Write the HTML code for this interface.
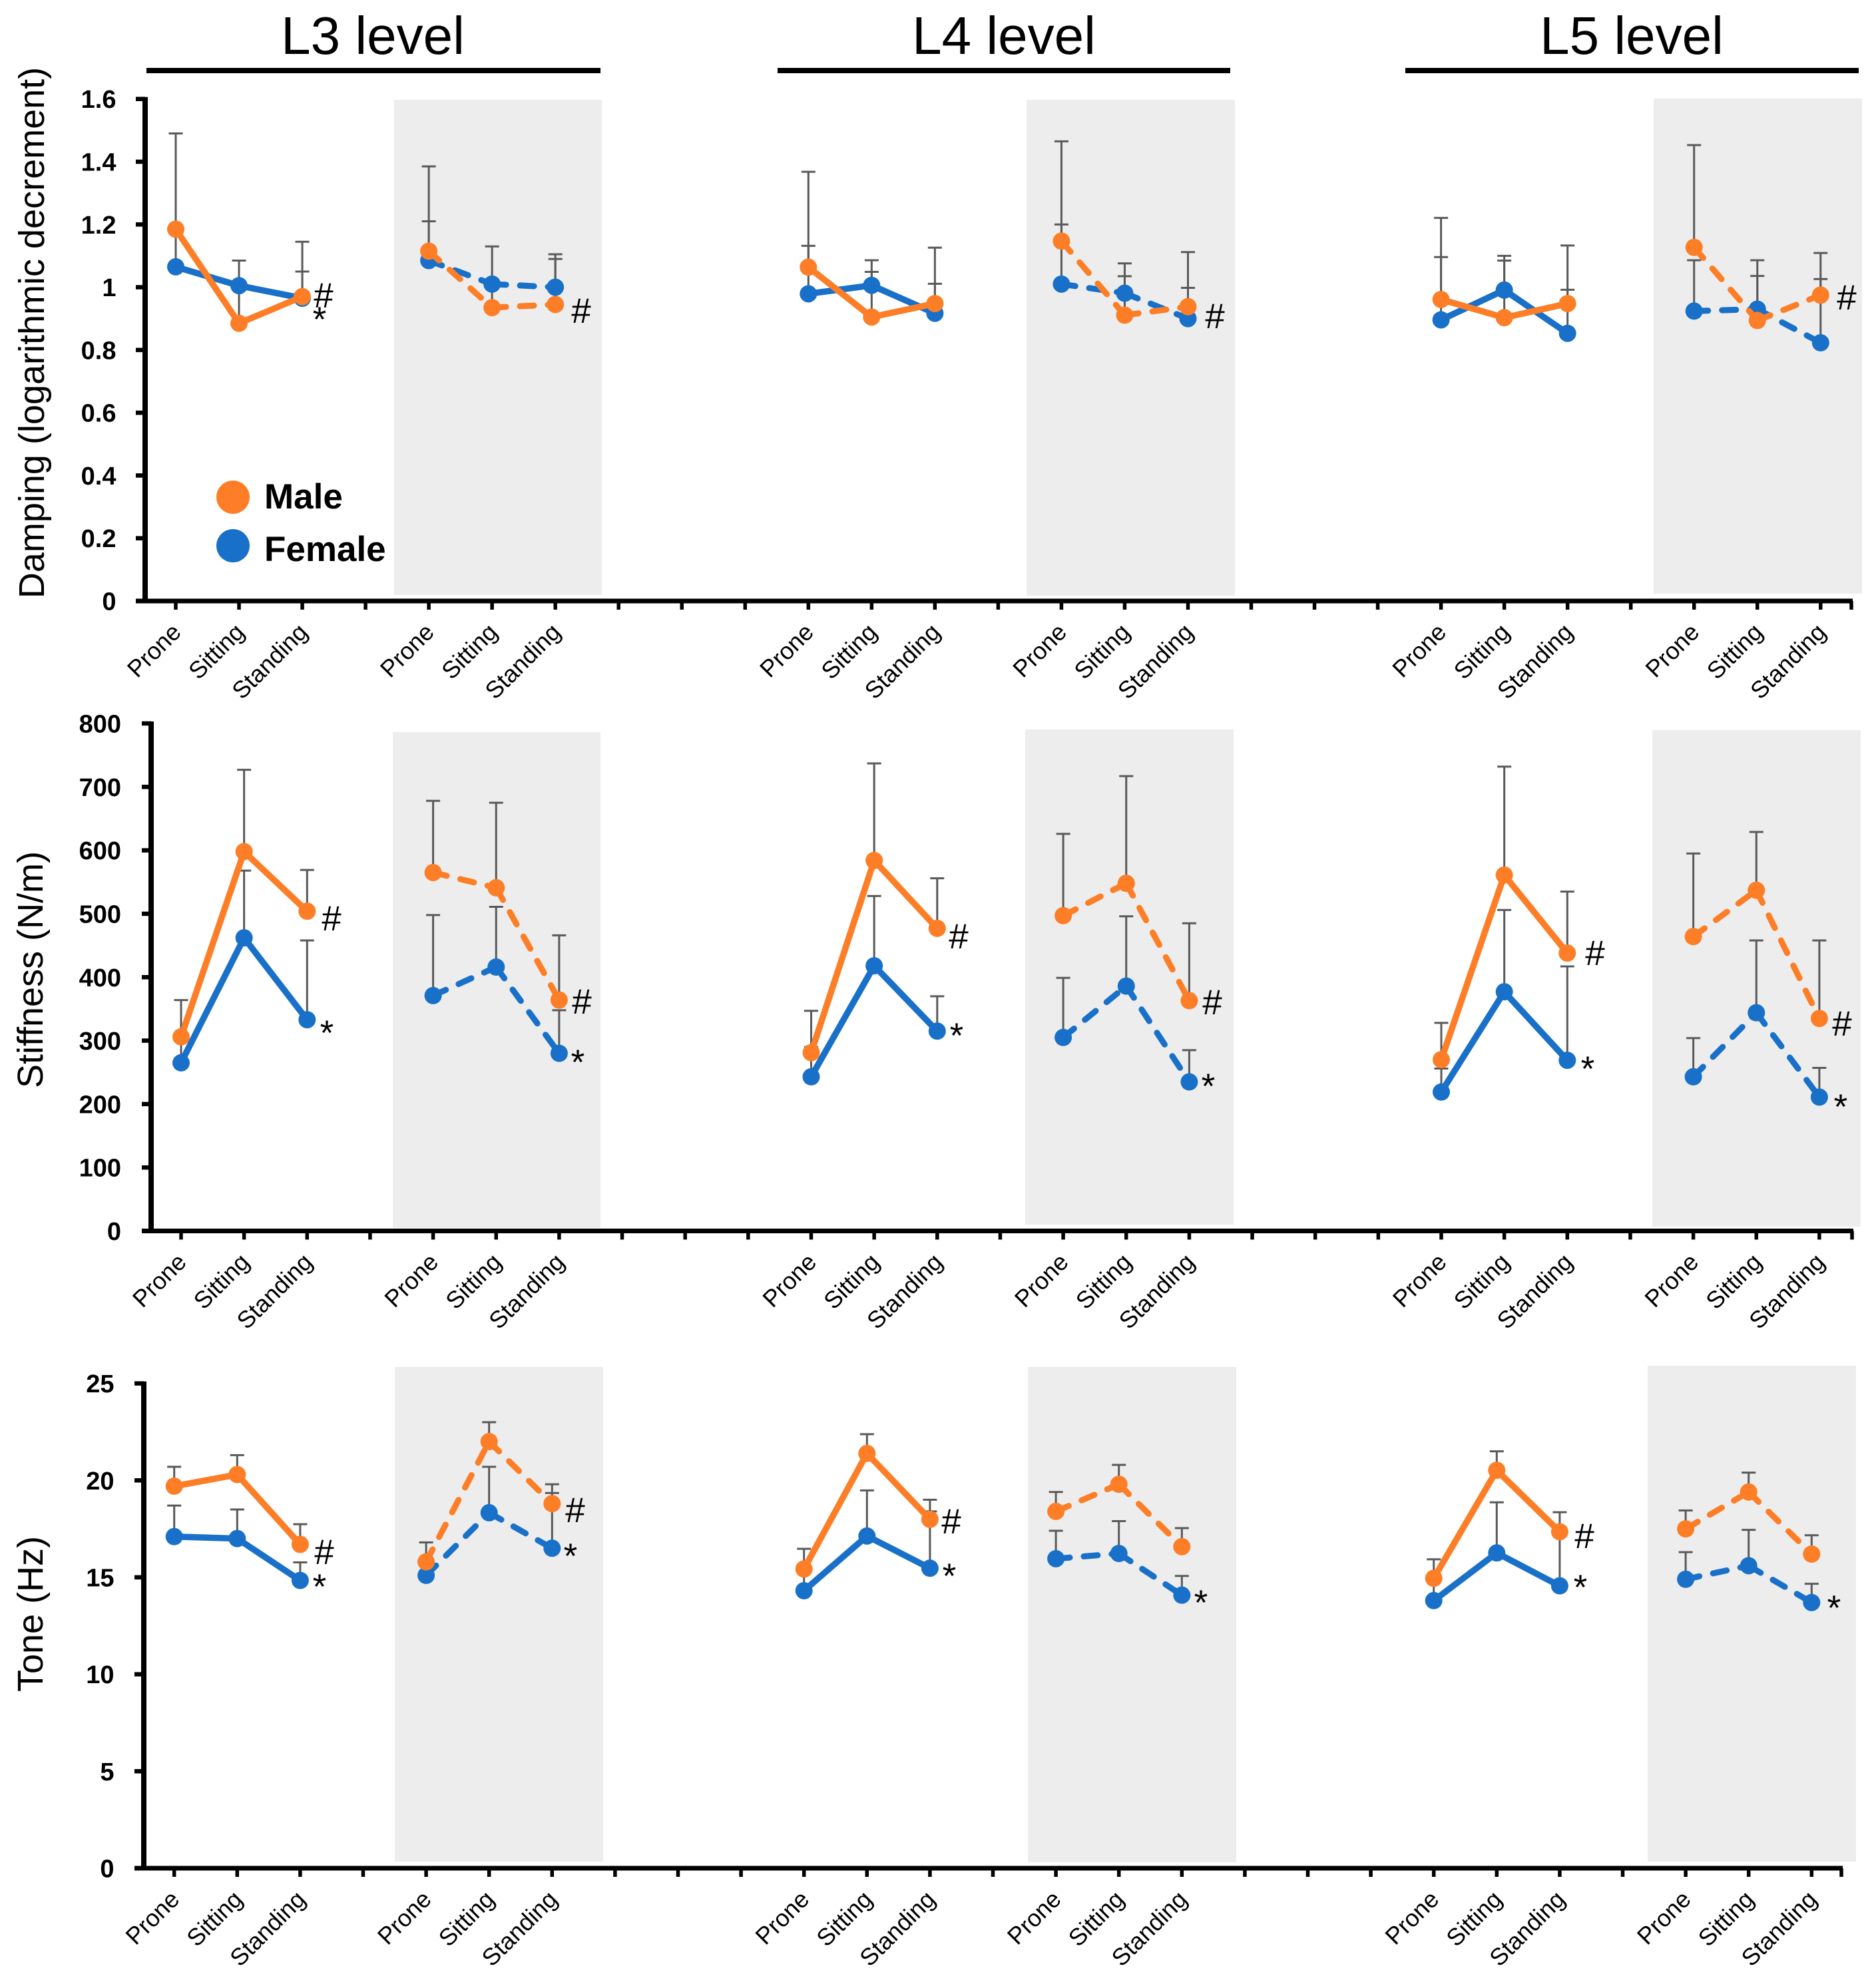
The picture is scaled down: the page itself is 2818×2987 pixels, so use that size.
<!DOCTYPE html>
<html lang="en">
<head>
<meta charset="utf-8">
<title>Damping, stiffness and tone by spinal level</title>
<style>
html,body{margin:0;padding:0;background:#fff}
svg{display:block}
text{font-family:"Liberation Sans",Arial,sans-serif}
</style>
</head>
<body>
<svg id="chart" xmlns="http://www.w3.org/2000/svg" width="2818" height="2987" viewBox="0 0 2818 2987">
<rect x="0" y="0" width="2818" height="2987" fill="#ffffff"/>
<g id="back"></g>
<g>
<text x="560" y="81" font-size="80" text-anchor="middle">L3 level</text>
<rect x="220" y="102" width="682" height="8" fill="#000"/>
<text x="1508" y="81" font-size="80" text-anchor="middle">L4 level</text>
<rect x="1168" y="102" width="680" height="8" fill="#000"/>
<text x="2451" y="81" font-size="80" text-anchor="middle">L5 level</text>
<rect x="2111" y="102" width="681" height="8" fill="#000"/>
</g>
<text transform="translate(66 500) rotate(-90)" font-size="54" text-anchor="middle">Damping (logarithmic decrement)</text>
<text transform="translate(64 1457) rotate(-90)" font-size="54" text-anchor="middle">Stiffness (N/m)</text>
<text transform="translate(64 2425) rotate(-90)" font-size="54" text-anchor="middle">Tone (Hz)</text>
<g>
<circle cx="350" cy="747" r="25" fill="#fd7e26"/>
<text x="397" y="764" font-size="53" font-weight="bold">Male</text>
<circle cx="350" cy="820" r="25" fill="#1870c9"/>
<text x="397" y="843" font-size="53" font-weight="bold">Female</text>
</g>
</svg>
<script>
// Categories
const postures = ['Prone', 'Sitting', 'Standing'];

// Each series lists L3, L3 shaded, L4, L4 shaded, L5, L5 shaded (three postures each)
const dampingMale = [1.185,0.885,0.97, 1.115,0.935,0.945, 1.064,0.905,0.948, 1.147,0.911,0.938, 0.961,0.903,0.948, 1.127,0.894,0.975];
const dampingFemale = [1.065,1.005,0.965, 1.085,1.01,1.0, 0.979,1.006,0.917, 1.01,0.981,0.9, 0.896,0.991,0.853, 0.924,0.93,0.823];
const dampingMaleUpper = [1.185,1.085,1.145, 1.385,1.13,1.105, 1.368,1.049,1.126, 1.465,1.035,1.112, 1.221,1.085,1.133, 1.453,1.036,1.109];
const dampingFemaleUpper = [1.49,1.005,1.05, 1.21,1.01,1.09, 1.132,1.086,1.011, 1.2,1.076,0.998, 1.096,1.1,0.992, 1.086,1.086,1.026];

const stiffnessMale = [306,598,504, 565,541,364, 281,584,477, 497,548,363, 270,561,438, 464,537,335];
const stiffnessFemale = [265,462,333, 371,416,280, 243,418,315, 305,386,235, 219,377,269, 243,344,211];
const stiffnessMaleUpper = [364,727,569, 678,675,466, 347,737,556, 626,717,485, 328,732,535, 595,629,458];
const stiffnessFemaleUpper = [305,568,458, 498,511,348, 290,528,370, 399,496,285, 256,506,417, 304,458,257];

const toneMale = [19.7,20.3,16.7, 15.8,22.0,18.8, 15.43,21.39,17.99, 18.4,19.8,16.58, 14.95,20.52,17.35, 17.5,19.4,16.2];
const toneFemale = [17.1,17.0,14.84, 15.1,18.33,16.5, 14.31,17.13,15.47, 15.96,16.23,14.08, 13.8,16.26,14.56, 14.9,15.6,13.7];
const toneMaleUpper = [20.7,21.3,17.74, 16.8,23.0,19.8, 16.47,22.38,19.0, 19.4,20.8,17.54, 15.93,21.5,18.36, 18.45,20.4,17.17];
const toneFemaleUpper = [18.7,18.5,15.77, 15.8,20.7,19.35, 15.4,19.48,18.4, 17.4,17.9,15.07, 14.95,18.87,17.3, 16.3,17.45,14.67];

// Tick labels
const dampingTicks = [0,0.2,0.4,0.6,0.8,1,1.2,1.4,1.6];
const stiffnessTicks = [0,100,200,300,400,500,600,700,800];
const toneTicks = [0,5,10,15,20,25];

// Layout (separate from data)
const ORANGE = '#fd7e26', BLUE = '#1870c9', GREY = '#595959', SHADE = '#ededed';
const panelSlots = [0, 4, 10, 14, 20, 24];
const rows = [
  {id:'damping', male:dampingMale, female:dampingFemale, maleUp:dampingMaleUpper, femaleUp:dampingFemaleUpper, ticks:dampingTicks,
   x0:264, step:95.03, axisX:218, y0:903, top:148.7, xEnd:2783, labelRight:174.5,
   shade:[[592,904,150,894],[1542,1855,150,895],[2484,2797,148,892]],
   notes:[['#',486,443],['*',480,475],['#',873,466],['#',1825,474],['#',2774,446]]},
  {id:'stiffness', male:stiffnessMale, female:stiffnessFemale, maleUp:stiffnessMaleUpper, femaleUp:stiffnessFemaleUpper, ticks:stiffnessTicks,
   x0:272, step:94.65, axisX:227, y0:1849.5, top:1087, xEnd:2784, labelRight:182,
   shade:[[590,902,1100,1845],[1540,1853,1096,1840],[2482,2795,1097,1843]],
   notes:[['#',498,1379],['*',491,1547],['#',874,1504],['*',868,1591],['#',1440,1406],['*',1437,1551],['#',1821,1505],['*',1815,1627],['#',2396,1431],['*',2385,1601],['#',2767,1537],['*',2765,1658]]},
  {id:'tone', male:toneMale, female:toneFemale, maleUp:toneMaleUpper, femaleUp:toneFemaleUpper, ticks:toneTicks,
   x0:261.7, step:94.6, axisX:216, y0:2807, top:2078.6, xEnd:2768, labelRight:171.5,
   shade:[[593,906,2054,2797],[1544,1857,2054,2798],[2475,2788,2052,2797]],
   notes:[['#',487,2331],['*',480,2379],['#',864,2268],['*',857,2333],['#',1429,2285],['*',1426,2363],['*',1804,2403],['#',2380,2307],['*',2374,2380],['*',2755,2411]]}
];

const NS = 'http://www.w3.org/2000/svg';
const root = document.getElementById('back');
function make(tag, attrs, parent) {
  const n = document.createElementNS(NS, tag);
  for (const k in attrs) n.setAttribute(k, attrs[k]);
  parent.appendChild(n);
  return n;
}

rows.forEach(function (row) {
  const yScale = function (v) { return row.y0 - (v / row.ticks[row.ticks.length - 1]) * (row.y0 - row.top); };
  const xScale = function (slot) { return row.x0 + slot * row.step; };

  const g = make('g', {}, root);
  
  

  // Shaded panels
  row.shade.forEach(function (s) {
    const r = make('rect', {x:s[0], y:s[2], width:s[1]-s[0], height:s[3]-s[2], fill:SHADE}, g);
    
    
  });

  // Axes
  const yAxis = make('line', {x1:row.axisX, x2:row.axisX, y1:row.top-3, y2:row.y0+3, stroke:'#000', 'stroke-width':8}, g);
  
  
  const xAxis = make('line', {x1:row.axisX-14, x2:row.xEnd, y1:row.y0, y2:row.y0, stroke:'#000', 'stroke-width':7}, g);
  
  

  // Y ticks and labels
  row.ticks.forEach(function (t) {
    const yy = yScale(t);
    const tick = make('line', {x1:row.axisX-14, x2:row.axisX, y1:yy, y2:yy, stroke:'#000', 'stroke-width':6.5}, g);
    
    
    const label = make('text', {x:row.labelRight, y:yy+13.5, 'font-size':38, 'font-weight':'bold', 'text-anchor':'end'}, g);
    label.textContent = String(t);
    
    
  });

  // X ticks
  for (let k = 0; row.x0 + k * row.step < row.xEnd; k++) {
    const xt = make('line', {x1:xScale(k), x2:xScale(k), y1:row.y0, y2:row.y0+13, stroke:'#000', 'stroke-width':5.5}, g);
    
    
  }
  const endTick = make('line', {x1:row.xEnd-2, x2:row.xEnd-2, y1:row.y0, y2:row.y0+13, stroke:'#000', 'stroke-width':5.5}, g);
  
  

  // X labels
  panelSlots.forEach(function (slot) {
    postures.forEach(function (p, i) {
      const px = xScale(slot + i) + 10, py = row.y0 + 49;
      const label = make('text', {x:px, y:py, 'font-size':36, 'text-anchor':'end', transform:'rotate(-45 ' + px + ' ' + py + ')'}, g);
      label.textContent = p;
      
      
    });
  });

  // Error bars
  [[row.female, row.femaleUp, 'female'], [row.male, row.maleUp, 'male']].forEach(function (s) {
    panelSlots.forEach(function (slot, p) {
      postures.forEach(function (_, i) {
        const idx = p * 3 + i, xx = xScale(slot + i);
        const stem = make('line', {x1:xx, x2:xx, y1:yScale(s[0][idx]), y2:yScale(s[1][idx]), stroke:GREY, 'stroke-width':3}, g);
        
        
        const cap = make('line', {x1:xx-10.5, x2:xx+10.5, y1:yScale(s[1][idx]), y2:yScale(s[1][idx]), stroke:GREY, 'stroke-width':3}, g);
        
        
      });
    });
  });

  // Lines and markers: female first, male on top
  [[row.female, BLUE, 'female'], [row.male, ORANGE, 'male']].forEach(function (s) {
    panelSlots.forEach(function (slot, p) {
      const dashed = p % 2 === 1;
      for (let i = 0; i < postures.length - 1; i++) {
        const a = p * 3 + i, b = a + 1;
        const seg = make('line', {x1:xScale(slot+i), y1:yScale(s[0][a]), x2:xScale(slot+i+1), y2:yScale(s[0][b]),
          stroke:s[1], 'stroke-width':dashed ? 9 : 9.5, 'stroke-linecap':'round'}, g);
        if (dashed) seg.setAttribute('stroke-dasharray', '21 21');
        
        
      }
      postures.forEach(function (_, i) {
        const idx = p * 3 + i;
        const dot = make('circle', {cx:xScale(slot+i), cy:yScale(s[0][idx]), r:13, fill:s[1]}, g);
        
        
      });
    });
  });

  // Significance markers
  row.notes.forEach(function (n) {
    const lift = n[0] === '#' ? 19 : 23;
    const mark = make('text', {x:n[1], y:n[2]+lift, 'font-size':53, 'text-anchor':'middle', fill:'#000'}, g);
    mark.textContent = n[0];
    
    
  });
});
</script>
</body>
</html>
